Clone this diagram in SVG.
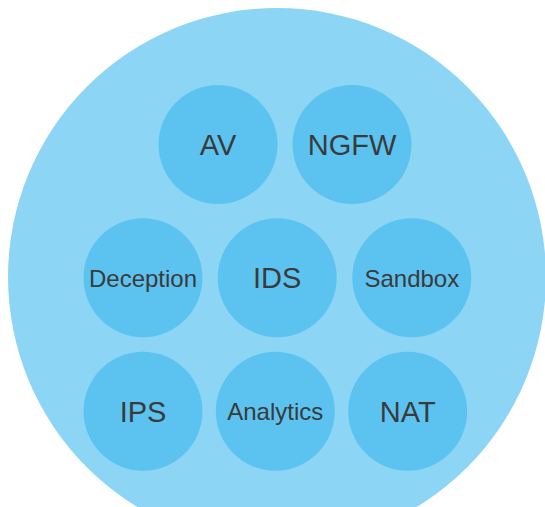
<svg xmlns="http://www.w3.org/2000/svg" width="545" height="507" viewBox="0 0 545 507">
<style>
.outer{fill:#8DD5F5;}
.node{fill:#5CC3F1;}
.lbl{font-family:"Liberation Sans",Arial,sans-serif;fill:#3A3A3A;text-anchor:middle;}
.big{font-size:29px;}
.small{font-size:24px;}
</style>
<rect width="545" height="507" fill="#FFFFFF"/>
<g id="container"><circle class="outer" cx="277" cy="277" r="269"/></g>
<g id="connectors"></g>
<g id="av"><circle class="node" cx="218" cy="144.5" r="59.5"/><text class="lbl big" x="218" y="155">AV</text></g>
<g id="ngfw"><circle class="node" cx="352" cy="144.5" r="59.5"/><text class="lbl big" x="352" y="155">NGFW</text></g>
<g id="deception"><circle class="node" cx="143" cy="277.7" r="59.5"/><text class="lbl small" x="143" y="287">Deception</text></g>
<g id="ids"><circle class="node" cx="277.2" cy="277.7" r="59.5"/><text class="lbl big" x="277.2" y="288">IDS</text></g>
<g id="sandbox"><circle class="node" cx="411.8" cy="277.7" r="59.5"/><text class="lbl small" x="411.8" y="287">Sandbox</text></g>
<g id="ips"><circle class="node" cx="143" cy="411.2" r="59.5"/><text class="lbl big" x="143" y="422">IPS</text></g>
<g id="analytics"><circle class="node" cx="275.3" cy="411.2" r="59.5"/><text class="lbl small" x="275.3" y="420">Analytics</text></g>
<g id="nat"><circle class="node" cx="407.7" cy="411.2" r="59.5"/><text class="lbl big" x="407.7" y="422">NAT</text></g>
</svg>
